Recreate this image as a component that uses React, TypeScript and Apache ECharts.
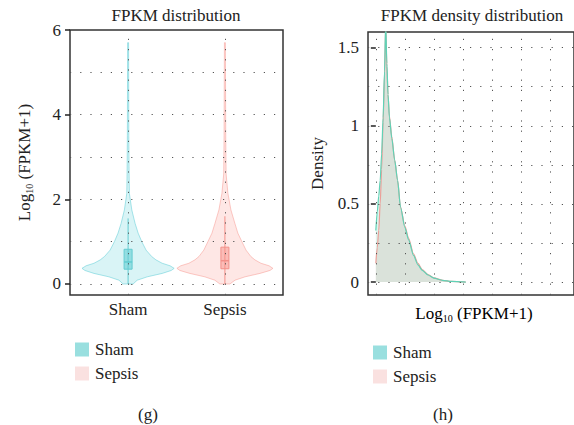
import React, { useEffect, useRef } from "react";
import * as echarts from "echarts";

// ---------- data ----------
const groups = ["Sham", "Sepsis"];

// violin outline: log10(FPKM+1) levels and relative density (half-width) at each level
const violinLevels = [0, 0.09, 0.17, 0.25, 0.32, 0.37, 0.43, 0.49, 0.57, 0.65, 0.8, 1.0, 1.2, 1.43, 1.75, 2.14, 2.6, 3.5, 5.7];
const shamViolin = [0.104, 0.19, 0.4, 0.71, 0.9, 0.96, 0.875, 0.71, 0.58, 0.49, 0.375, 0.285, 0.21, 0.146, 0.077, 0.027, 0.021, 0.015, 0.01];
const sepsisViolin = [0.104, 0.21, 0.42, 0.73, 0.94, 1.0, 0.92, 0.75, 0.625, 0.54, 0.44, 0.354, 0.27, 0.208, 0.125, 0.0625, 0.025, 0.017, 0.01];

// box: whisker low, q1, median, q3, whisker high
const shamBox = [0, 0.35, 0.52, 0.82, 1.55];
const sepsisBox = [0, 0.36, 0.55, 0.87, 1.6];

const violinTicks = [0, 2, 4, 6];
const violinGridLevels = [0, 1, 2, 3, 4, 5];

// density curves
const densityX = [0, 0.05, 0.1, 0.15, 0.2, 0.25, 0.3, 0.34, 0.38, 0.42, 0.47, 0.55, 0.65, 0.75, 0.85, 1.0, 1.13, 1.3, 1.45, 1.6, 1.8, 2.0, 2.3, 2.6, 3.0, 3.1];
const shamDensity = [0.33, 0.45, 0.55, 0.65, 0.82, 1.05, 1.35, 1.66, 1.4, 1.2, 1.05, 0.92, 0.78, 0.65, 0.48, 0.35, 0.27, 0.17, 0.11, 0.075, 0.045, 0.025, 0.011, 0.004, 0.001, 0];
const sepsisDensity = [0.12, 0.22, 0.33, 0.5, 0.72, 1.02, 1.33, 1.64, 1.38, 1.2, 1.06, 0.93, 0.78, 0.65, 0.48, 0.36, 0.28, 0.18, 0.12, 0.08, 0.047, 0.026, 0.011, 0.004, 0.001, 0];

const densityTicks = [0, 0.5, 1, 1.5];
const densityGridY = [0, 0.25, 0.5, 0.75, 1, 1.25, 1.5];
const densityGridX = [0, 1, 2, 3, 4, 5, 6];

// ---------- styles ----------
const FONT = "'Liberation Serif', 'Times New Roman', serif";
const TEXT = "#222";
const legendColors = ["#99dfdf", "#fae1e0"];
const violinFill = ["rgba(120, 214, 222, 0.28)", "rgba(250, 160, 152, 0.25)"];
const violinStroke = ["rgba(110, 210, 218, 0.6)", "rgba(248, 150, 142, 0.5)"];
const boxFill = ["rgba(100, 205, 212, 0.6)", "rgba(248, 145, 138, 0.5)"];
const boxStroke = ["#62ccd1", "#f39089"];
const densityLine = ["#5fd2b6", "#eb9f98"];
const densityArea = ["rgba(80, 200, 170, 0.28)", "rgba(240, 150, 140, 0.3)"];
const HALF = 48;

const violins = [shamViolin, sepsisViolin];
const boxes = [shamBox, sepsisBox];
const densities = [shamDensity, sepsisDensity];

const serifText = { fontSize: 17, fontFamily: FONT, color: TEXT };
const richLabel = {
  a: { ...serifText, lineHeight: 20 },
  s: { fontSize: 10, fontFamily: FONT, color: TEXT, lineHeight: 10, verticalAlign: "bottom" },
};
const plainRich = { t: { ...serifText } };
const logLabel = "{a|Log}{s|10}{a| (FPKM+1)}";

const dotted = { color: "#555", width: 1, type: [1.2, 9] as any };

function violinSeries(gi: number) {
  return {
    type: "custom",
    name: groups[gi],
    xAxisIndex: 0,
    yAxisIndex: 0,
    clip: false,
    itemStyle: { color: legendColors[gi] },
    data: [[gi + 1, boxes[gi][2]]],
    renderItem: (params: any, api: any) => {
      const cx = gi + 1;
      const w = violins[gi];
      const right: number[][] = [];
      const left: number[][] = [];
      violinLevels.forEach((lv, i) => {
        const p = api.coord([cx, lv]);
        right.push([p[0] + w[i] * HALF, p[1]]);
        left.push([p[0] - w[i] * HALF, p[1]]);
      });
      const pts = right.concat(left.reverse());
      const b = boxes[gi];
      const pLow = api.coord([cx, b[0]]);
      const pQ1 = api.coord([cx, b[1]]);
      const pMed = api.coord([cx, b[2]]);
      const pQ3 = api.coord([cx, b[3]]);
      const pHigh = api.coord([cx, b[4]]);
      return {
        type: "group",
        children: [
          { type: "polygon", shape: { points: pts }, style: { fill: violinFill[gi], stroke: violinStroke[gi], lineWidth: 1 } },
          { type: "line", shape: { x1: pLow[0], y1: pLow[1], x2: pHigh[0], y2: pHigh[1] }, style: { stroke: boxStroke[gi], lineWidth: 1 } },
          { type: "rect", shape: { x: pQ3[0] - 4, y: pQ3[1], width: 8, height: pQ1[1] - pQ3[1] }, style: { fill: boxFill[gi], stroke: boxStroke[gi], lineWidth: 1 } },
          { type: "line", shape: { x1: pMed[0] - 4, y1: pMed[1], x2: pMed[0] + 4, y2: pMed[1] }, style: { stroke: boxStroke[gi], lineWidth: 1.5 } },
        ],
      };
    },
  };
}

function densitySeries(gi: number) {
  return {
    type: "line",
    name: groups[gi],
    xAxisIndex: 1,
    yAxisIndex: 1,
    data: densityX.map((x, i) => [x, densities[gi][i]]),
    showSymbol: false,
    symbol: "none",
    smooth: 0.25,
    smoothMonotone: "x",
    lineStyle: { color: densityLine[gi], width: 1.2 },
    areaStyle: { color: densityArea[gi] },
    itemStyle: { color: legendColors[gi] },
    silent: true,
  };
}

function legendFor(left: number, top: number) {
  return {
    left,
    top,
    orient: "vertical",
    icon: "rect",
    itemWidth: 14,
    itemHeight: 14,
    itemGap: 7,
    selectedMode: false,
    data: groups.map((g, i) => ({ name: g, itemStyle: { color: legendColors[i] } })),
    formatter: (name: string) => `{t|${name}}`,
    textStyle: { ...serifText, lineHeight: 17, padding: [0, 0, 0, 1], rich: plainRich },
  };
}

export default function App() {
  const ref = useRef<HTMLDivElement>(null);
  useEffect(() => {
    if (!ref.current) return;
    const chart = echarts.init(ref.current, null, { renderer: "svg" });
    const option: any = {
      animation: false,
      backgroundColor: "#fff",
      textStyle: { fontFamily: FONT, color: TEXT },
      grid: [
        { left: 70, top: 30, width: 213, height: 265, show: true, borderColor: "#333", borderWidth: 1.5, backgroundColor: "transparent" },
        { left: 368, top: 32, width: 240, height: 263, show: true, borderColor: "#333", borderWidth: 1.5, backgroundColor: "transparent" },
      ],
      xAxis: [
        {
          type: "value",
          gridIndex: 0,
          min: 0.4,
          max: 2.6,
          axisLine: { show: false },
          axisTick: { show: false, customValues: [1, 2] },
          splitLine: { show: false },
          axisLabel: { ...serifText, margin: 6, customValues: [1, 2], rich: plainRich, formatter: (v: number) => `{t|${groups[Math.round(v) - 1]}}` },
        },
        {
          type: "value",
          gridIndex: 1,
          min: -0.27,
          max: 6.83,
          axisLine: { show: false },
          axisTick: { show: false },
          splitLine: { show: false },
          axisLabel: { show: false },
        },
      ],
      yAxis: [
        {
          type: "value",
          gridIndex: 0,
          min: -0.26,
          max: 6,
          axisLine: { show: false },
          axisTick: { show: true, length: 5, customValues: violinTicks, lineStyle: { color: "#222", width: 1.5 } },
          splitLine: { show: false },
          axisLabel: { ...serifText, margin: 9, customValues: violinTicks, rich: plainRich, formatter: (v: number) => `{t|${v}}` },
          name: logLabel,
          nameLocation: "middle",
          nameGap: 36,
          nameRotate: 90,
          nameTextStyle: { rich: richLabel },
        },
        {
          type: "value",
          gridIndex: 1,
          min: -0.083,
          max: 1.6,
          axisLine: { show: false },
          axisTick: { show: true, length: 5, customValues: densityTicks, lineStyle: { color: "#222", width: 1.5 } },
          splitLine: { show: false },
          axisLabel: { ...serifText, margin: 9, customValues: densityTicks, rich: plainRich, formatter: (v: number) => `{t|${v}}` },
          name: "Density",
          nameLocation: "middle",
          nameGap: 42,
          nameRotate: 90,
          nameTextStyle: { ...serifText },
        },
      ],
      legend: [legendFor(70, 336), legendFor(368, 339)],
      series: [
        violinSeries(0),
        violinSeries(1),
        {
          type: "line",
          name: "violinGrid",
          xAxisIndex: 0,
          yAxisIndex: 0,
          data: [],
          silent: true,
          z: 1,
          markLine: {
            silent: true,
            symbol: ["none", "none"],
            label: { show: false },
            lineStyle: dotted,
            emphasis: { disabled: true },
            data: [
              ...violinGridLevels.map((v) => ({ yAxis: v })),
              ...groups.map((_, i) => ({ xAxis: i + 1 })),
            ],
          },
        },
        densitySeries(1),
        densitySeries(0),
        {
          type: "line",
          name: "densityGrid",
          xAxisIndex: 1,
          yAxisIndex: 1,
          data: [],
          silent: true,
          z: 1,
          markLine: {
            silent: true,
            symbol: ["none", "none"],
            label: { show: false },
            lineStyle: dotted,
            emphasis: { disabled: true },
            data: [
              ...densityGridY.map((v) => ({ yAxis: v })),
              ...densityGridX.map((v) => ({ xAxis: v })),
            ],
          },
        },
      ],
      graphic: [
        { type: "text", x: 176, y: 15, style: { text: "FPKM distribution", fontFamily: FONT, fontSize: 17, fill: TEXT, align: "center", verticalAlign: "middle" } },
        { type: "text", x: 472, y: 15, style: { text: "FPKM density distribution", fontFamily: FONT, fontSize: 17, fill: TEXT, align: "center", verticalAlign: "middle" } },
        { type: "text", x: 474, y: 313, style: { text: logLabel, rich: richLabel, align: "center", verticalAlign: "middle" } },
        { type: "text", x: 148, y: 414, style: { text: "(g)", fontFamily: FONT, fontSize: 17, fill: TEXT, align: "center", verticalAlign: "middle" } },
        { type: "text", x: 443, y: 414, style: { text: "(h)", fontFamily: FONT, fontSize: 17, fill: TEXT, align: "center", verticalAlign: "middle" } },
      ],
    };
    chart.setOption(option);
    return () => chart.dispose();
  }, []);
  return <div ref={ref} style={{ position: "fixed", left: 0, top: 0, width: 574, height: 425 }} />;
}
